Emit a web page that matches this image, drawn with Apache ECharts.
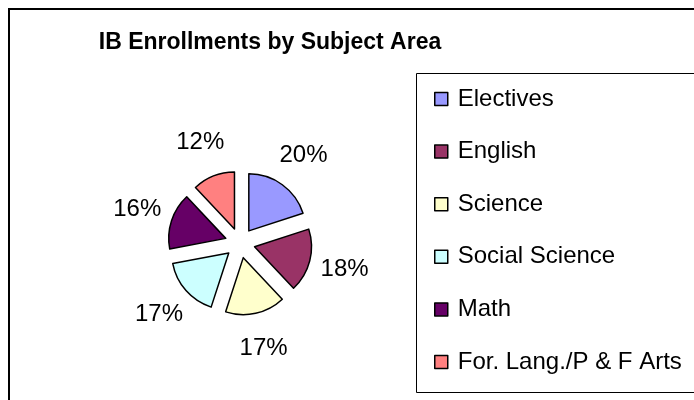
<!DOCTYPE html>
<html>
<head>
<meta charset="utf-8">
<script src="https://cdn.jsdelivr.net/npm/echarts@6/dist/echarts.min.js"></script>
<style>
  html, body { margin: 0; padding: 0; background: #fff; }
  #main { width: 694px; height: 400px; }
</style>
</head>
<body>
<div id="main"></div>
<script>
var chartDom = document.getElementById('main');
var myChart = echarts.init(chartDom);

// subject areas and their share of enrollments (%)
var subjects = ['Electives', 'English', 'Science', 'Social Science', 'Math', 'For. Lang./P & F Arts'];
var shares = [20, 18, 17, 17, 16, 12];
var colors = ['#9999FF', '#993366', '#FFFFCC', '#CCFFFF', '#660066', '#FF8080'];

var font = '"Liberation Sans", Arial, sans-serif';
var pieCenter = [240, 243];

var pieData = subjects.map(function (name, i) {
  return {
    name: name,
    value: shares[i],
    selected: true,
    itemStyle: { color: colors[i] }
  };
});

// same data, drawn invisibly, only to carry the percent labels further out
var labelData = subjects.map(function (name, i) {
  return { name: name, value: shares[i] };
});

var option = {
  animation: false,
  backgroundColor: '#fff',
  title: {
    text: 'IB Enrollments by Subject Area',
    left: 265,
    top: 26,
    textAlign: 'center',
    textStyle: {
      fontFamily: font,
      fontSize: 23,
      fontWeight: 'bold',
      color: '#000'
    }
  },
  legend: {
    orient: 'vertical',
    left: 434,
    top: 87,
    padding: 0,
    icon: 'rect',
    itemWidth: 13,
    itemHeight: 13,
    itemGap: 28.6,
    selectedMode: false,
    data: subjects,
    itemStyle: { borderColor: '#000', borderWidth: 1.5 },
    textStyle: {
      fontFamily: font,
      fontSize: 24,
      lineHeight: 24,
      color: '#000',
      padding: [0, 0, 0, 5]
    }
  },
  graphic: [
    {
      type: 'rect',
      shape: { x: 9, y: 9, width: 720, height: 420 },
      style: { fill: 'none', stroke: '#000', lineWidth: 2 },
      silent: true
    },
    {
      type: 'rect',
      shape: { x: 416.5, y: 73.5, width: 320, height: 319 },
      style: { fill: 'none', stroke: '#000', lineWidth: 1 },
      silent: true
    }
  ],
  series: [
    {
      type: 'pie',
      center: pieCenter,
      radius: 57,
      startAngle: 90,
      clockwise: true,
      selectedMode: 'multiple',
      selectedOffset: 15,
      data: pieData,
      itemStyle: { borderColor: '#000', borderWidth: 1.5 },
      label: { show: false },
      labelLine: { show: false },
      emphasis: { disabled: true }
    },
    {
      type: 'pie',
      center: pieCenter,
      radius: [0, 210],
      startAngle: 90,
      clockwise: true,
      silent: true,
      selectedMode: false,
      data: labelData,
      itemStyle: { color: 'rgba(0,0,0,0)', borderWidth: 0 },
      label: {
        show: true,
        position: 'inside',
        formatter: '{c}%',
        fontFamily: font,
        fontSize: 24,
        color: '#000'
      },
      labelLine: { show: false },
      emphasis: { disabled: true }
    }
  ]
};

myChart.setOption(option);
</script>
</body>
</html>
